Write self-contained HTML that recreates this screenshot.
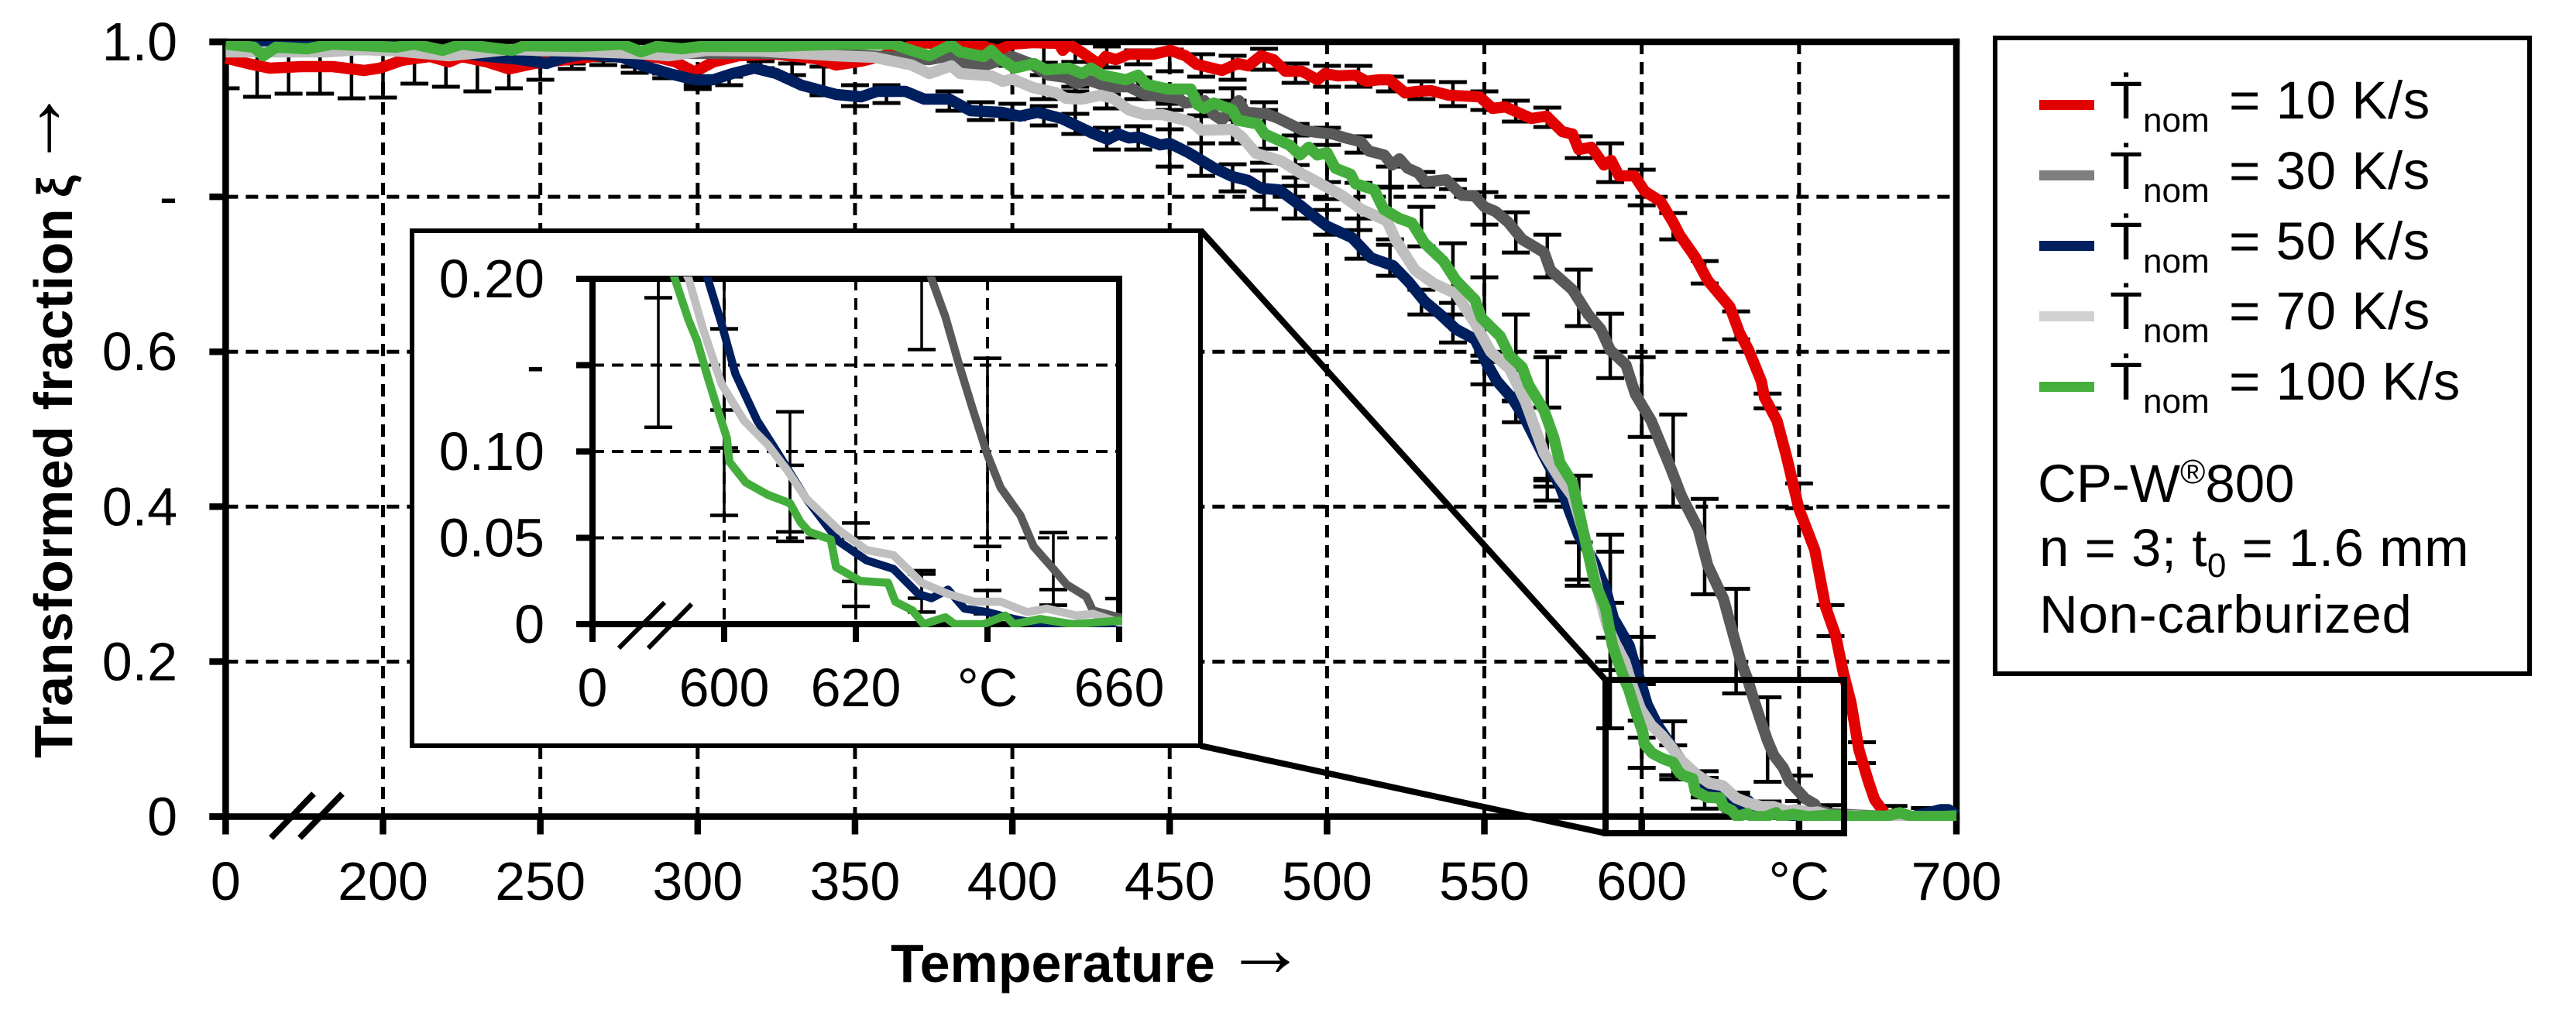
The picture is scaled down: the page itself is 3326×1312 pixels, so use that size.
<!DOCTYPE html>
<html lang="en">
<head>
<meta charset="utf-8">
<title>Transformed fraction vs temperature</title>
<style>
html,body{margin:0;padding:0;background:#fff;}
svg{display:block;}
text{font-family:"Liberation Sans",sans-serif;fill:#000;}
</style>
</head>
<body>
<svg id="chart" xmlns="http://www.w3.org/2000/svg" width="3326" height="1312" viewBox="0 0 3326 1312">
  <defs>
    <clipPath id="main-clip"><rect x="288" y="53" width="2242" height="1007"/></clipPath>
    <clipPath id="inset-clip"><rect x="762" y="357" width="687" height="453"/></clipPath>
  </defs>
  <rect x="0" y="0" width="3326" height="1312" fill="#fff"/>
  <g id="main-grid"></g>
  <g id="main-axes"></g>
  <g id="main-errors" clip-path="url(#main-clip)"></g>
  <g id="main-lines" clip-path="url(#main-clip)"></g>
  <g id="main-labels"></g>

  <g stroke="#000" stroke-width="8" fill="none">
    <line x1="350" y1="1082" x2="405" y2="1025"/>
    <line x1="387" y1="1082" x2="442" y2="1025"/>
  </g>

  <text transform="translate(93 979) rotate(-90)" font-size="70" font-weight="700" letter-spacing="0.5">Transformed fraction<tspan x="724" letter-spacing="0" font-size="64">ξ</tspan><tspan x="761" dy="-12" letter-spacing="0" font-size="105" font-weight="400" style="font-family:'Liberation Serif',serif">→</tspan></text>
  <text x="1150" y="1268" font-size="70" font-weight="700">Temperature<tspan x="1581" dy="-8" font-size="105" font-weight="400" style="font-family:'Liberation Serif',serif">→</tspan></text>

  <line x1="1550" y1="297" x2="2073" y2="878" stroke="#000" stroke-width="8"/>
  <line x1="1550" y1="963" x2="2073" y2="1076" stroke="#000" stroke-width="8"/>

  <rect x="532" y="298" width="1018" height="665" fill="#fff" stroke="#000" stroke-width="6"/>
  <g id="inset-grid"></g>
  <g id="inset-axes"></g>
  <g id="inset-errors" clip-path="url(#inset-clip)"></g>
  <g id="inset-lines" clip-path="url(#inset-clip)"></g>
  <g id="inset-labels"></g>
  <g stroke="#000" stroke-width="6" fill="none">
    <line x1="799" y1="837" x2="858" y2="778"/>
    <line x1="837" y1="837" x2="893" y2="780"/>
  </g>

  <g>
    <rect x="2576" y="49" width="690" height="821" fill="#fff" stroke="#000" stroke-width="6"/>
    <g>
      <rect x="2633" y="129" width="71" height="13" fill="#e30000"/>
      <text x="2724" y="153" font-size="69">Ṫ</text>
      <text x="2767" y="170" font-size="44">nom</text>
      <text x="2878" y="153" font-size="69" letter-spacing="0.6">= 10 K/s</text>
    </g>
    <g>
      <rect x="2633" y="220" width="71" height="13" fill="#7f7f7f"/>
      <text x="2724" y="244" font-size="69">Ṫ</text>
      <text x="2767" y="261" font-size="44">nom</text>
      <text x="2878" y="244" font-size="69" letter-spacing="0.6">= 30 K/s</text>
    </g>
    <g>
      <rect x="2633" y="311" width="71" height="13" fill="#002060"/>
      <text x="2724" y="335" font-size="69">Ṫ</text>
      <text x="2767" y="352" font-size="44">nom</text>
      <text x="2878" y="335" font-size="69" letter-spacing="0.6">= 50 K/s</text>
    </g>
    <g>
      <rect x="2633" y="402" width="71" height="13" fill="#d0d0d0"/>
      <text x="2724" y="425" font-size="69">Ṫ</text>
      <text x="2767" y="442" font-size="44">nom</text>
      <text x="2878" y="425" font-size="69" letter-spacing="0.6">= 70 K/s</text>
    </g>
    <g>
      <rect x="2633" y="493" width="71" height="13" fill="#46b03c"/>
      <text x="2724" y="516" font-size="69">Ṫ</text>
      <text x="2767" y="533" font-size="44">nom</text>
      <text x="2878" y="516" font-size="69" letter-spacing="0.6">= 100 K/s</text>
    </g>
    <text x="2631" y="648" font-size="69">CP-W<tspan font-size="44" dy="-24">®</tspan><tspan dy="24">800</tspan></text>
    <text x="2633" y="731" font-size="69" letter-spacing="0.5">n = 3; t<tspan font-size="44" dy="14">0</tspan><tspan dy="-14"> = 1.6 mm</tspan></text>
    <text x="2633" y="817" font-size="69" letter-spacing="0.7">Non-carburized</text>
  </g>

  <rect x="2073" y="878" width="308" height="198" fill="none" stroke="#000" stroke-width="8"/>
</svg>

<script>
/* Axis tick values and printed labels (the first position stands in for the broken axis start) */
const mainXTicks = [150, 200, 250, 300, 350, 400, 450, 500, 550, 600, 650, 700];
const mainXLabels = ["0", "200", "250", "300", "350", "400", "450", "500", "550", "600", "°C", "700"];
const mainYTicks = [0, 0.2, 0.4, 0.6, 0.8, 1.0];
const mainYLabels = ["0", "0.2", "0.4", "0.6", "-", "1.0"];
const insetXTicks = [580, 600, 620, 640, 660];
const insetXLabels = ["0", "600", "620", "°C", "660"];
const insetYTicks = [0, 0.05, 0.10, 0.15, 0.20];
const insetYLabels = ["0", "0.05", "0.10", "-", "0.20"];

/* 10 K/s */
const redT = [150,157,164,174,184,194,199,206,215,221,225,233,240,248,256,265,274,287,293,299,305,313,325,338,344,352,362,370,380,390,
395.4,400,406.5,414.7,416,418,422.2,427.5,429.6,432.9,437,445,450.2,455,458.5,466.6,471.6,475,479,483,486.8,492,497,499.3,503.4,509,512.5,516.6,519.8,524.8,528.8,533,538.7,548.5,552.6,556.7,564.9,569.8,574.8,578,580,584,588,590.3,592.8,597.7,601,606,610,
612,617,621,628,631,634,638,639,643,646,650,655,658.4,661.6,664,666.5,669,672,674,678];
const redXi = [.979,.972,.966,.968,.968,.963,.966,.976,.981,.974,.981,.974,.965,.972,.976,.98,.984,.98,.974,.961,.974,.982,.984,.978,.97,.975,.985,.999,.997,.995,
.989,.997,.999,.998,.989,.997,.986,.971,.981,.977,.984,.984,.989,.982,.971,.963,.972,.969,.982,.977,.962,.962,.951,.959,.956,.957,.949,.951,.951,.934,.936,.937,.931,.929,.914,.916,.901,.904,.884,.881,.861,.864,.841,.847,.827,.827,.807,.794,.767,
.751,.722,.692,.658,.625,.602,.562,.541,.511,.465,.397,.344,.271,.234,.187,.147,.087,.046,.022,0];

/* 30 K/s */
const grayT = [150,200,250,300,340,364,
373.6,380.1,384,390.9,400,405.7,411.5,417,420.5,423.8,430.4,437,442,452.6,455,461,464,466.6,472,474,480.6,484,492.2,497,501.8,505.9,510.8,513.3,518.2,520.7,523,525.6,528.9,531.3,537.9,542.8,546.9,550,553.5,557.6,
562,569,571,578,583,587,590,595,598,603,609,612.6,618,621,626,628,631.5,633.6,635.7,637.8,640,642,645,647,650,652,655,656,660,668,680];
const grayXi = [.99,.99,.988,.985,.985,.98,
.977,.982,.972,.969,.981,.972,.957,.954,.946,.951,.942,.942,.932,.927,.921,.924,.906,.899,.924,.909,.907,.902,.886,.883,.881,.876,.871,.859,.854,.841,.849,.837,.831,.819,.822,.802,.801,.787,.781,.767,
.745,.728,.705,.68,.648,.629,.602,.583,.545,.511,.452,.414,.371,.324,.281,.251,.2,.178,.15,.124,.098,.079,.063,.045,.032,.023,.016,.008,.004,.002,0];

/* 50 K/s */
const navyT = [150,180,200,221,231,242,252,258,264,276,282,291,299,305,311,318,325,333,344,352,357,366,372,
380,386.7,396.6,402.4,408,415.6,425.5,430.4,433.7,437,440.3,446.9,450,456,464.2,470,475,479,484.8,491.4,497,
500,508,514,521,526,531,536,541,547,551,554,559,563,569,574,580,585,588.5,591,596,597.5,599.6,601.7,605,608,612.4,617.4,621.6,625.7,629.5,631.5,634,636.5,640,644,648,656,686,695,697.5,700];
const navyXi = [.995,.998,.995,.989,.982,.978,.972,.98,.984,.98,.97,.959,.951,.951,.959,.966,.959,.944,.932,.929,.936,.936,.926,
.926,.911,.909,.904,.909,.901,.882,.874,.881,.876,.877,.867,.869,.857,.837,.826,.821,.811,.809,.789,.771,
.762,.747,.721,.711,.69,.665,.648,.629,.616,.583,.562,.539,.513,.465,.427,.363,.328,.294,.256,.221,.2,.174,.145,.118,.10,.073,.048,.037,.032,.0175,.015,.02,.009,.007,.003,0,0,0,.009,.009,.002];

/* 70 K/s */
const lightT = [150,182,193,205,221,240,260,280,291,303,320,344,356,368,
373.6,380.6,383.4,393.3,397,400,406.5,414,417,422,428,432,437,442,447.7,456.7,460,470,473,477.4,485.6,491.4,497,505,510.8,519,
522,528,534,541,547,552,558,563,569,574,578,581.5,586,589,592,594.6,596.7,599.6,603,606.6,609.5,612.4,617.4,621.6,625.7,630,634,638,642,646,649,653.5,656,660,668,680,700];
const lightXi = [.987,.987,.99,.988,.982,.99,.988,.985,.982,.989,.988,.982,.98,.97,
.959,.969,.959,.956,.949,.952,.941,.934,.927,.926,.931,.927,.912,.906,.906,.897,.886,.887,.877,.856,.846,.831,.819,.801,.784,.769,
.743,.705,.688,.675,.637,.60,.578,.536,.469,.436,.414,.367,.294,.247,.22,.2,.172,.139,.118,.104,.0895,.073,.0545,.043,.04,.024,.0175,.013,.013,.007,.009,.005,.006,.001,.001,0,0];

/* 100 K/s */
const greenT = [150,159,162,166,176,184,194,204,210,219,225,237,241,245,262,276,282,287,295,301,324,346,362,368,
373.6,380.6,383.4,390.9,393.3,395.8,400.7,406.9,410.6,418,422.2,425,428.7,436,440,442.7,449.3,456.7,458.8,460.9,464,470,471.6,478,480.2,488,491.4,494.2,496.9,500,502.6,507.5,509,515,518,523,527,
531,537,541,547,549,555,558,562,564,569,572,574,578,581.5,585,588.5,590.7,592.5,594.6,595.9,597.5,598.8,600.4,600.8,603.3,606.6,610,611.6,612.9,616.2,617,620.7,624.9,626,628.6,630.3,633.6,635,639.4,642.7,644,648,653,656.4,660,667.7,672,677,682,686,695,700];
const greenXi = [.997,.993,.982,.993,.991,.997,.995,.993,.997,.989,.997,.991,.989,.995,.994,.997,.987,.994,.991,.994,.994,.997,.997,.989,
.982,.996,.987,.981,.989,.979,.966,.972,.964,.966,.959,.966,.957,.951,.957,.945,.939,.939,.919,.914,.921,.912,.899,.894,.881,.867,.854,.864,.854,.857,.837,.829,.817,.809,.784,.772,.766,
.74,.717,.692,.667,.644,.62,.595,.58,.558,.524,.49,.457,.431,.367,.303,.269,.221,.2,.176,.164,.143,.127,.108,.094,.082,.075,.07,.059,.0535,.049,.033,.025,.024,.013,.008,0,.004,0,0,.005,0,.003,0,.001,.002,0,.001,0,.005,0,0,.001];

/* Error bars: temperature, lower end, upper end */
const redErrT = [150,160,170,180,190,200,210,220,230,240,250,400,410,420,430,440,450,460,470,480,490,500,510,520,530,540,550,560,570,580,590,600,610,620,630,640,650,660,670,680,690];
const redErrLo = [.94,.929,.933,.933,.927,.928,.946,.942,.936,.94,.951,.969,.973,.974,.967,.971,.962,.955,.951,.964,.947,.942,.942,.936,.926,.917,.912,.897,.89,.85,.819,.789,.745,.688,.616,.527,.398,.233,.069,.003,.002];
const redErrHi = [1,1,1,1,1,1,1,1,1,1,1,1,1,1,.994,.989,.99,.984,.982,.991,.972,.969,.969,.955,.949,.948,.936,.924,.915,.878,.869,.835,.779,.717,.652,.546,.43,.273,.096,.0137,.011];

const grayErrT = [420,440,450,460,470,480,490,500,510,520,530,540,550,560,570,580,590,600,610,620,630,640,650,660];
const grayErrLo = [.936,.926,.92,.905,.90,.862,.841,.819,.857,.813,.813,.81,.764,.728,.696,.633,.566,.49,.40,.287,.159,.045,.011,.001];
const grayErrHi = [.959,.954,.93,.936,.94,.922,.894,.889,.878,.839,.832,.822,.806,.78,.751,.706,.649,.593,.519,.41,.294,.154,.053,.0148];

const navyErrT = [260,270,280,290,300,310,320,330,340,350,360,380,390,400,410,420,430,440,450,460,470,480,490,500,510,520,530,540,550,560,570];
const navyErrLo = [.965,.97,.96,.953,.939,.944,.966,.957,.931,.917,.921,.911,.899,.90,.892,.881,.861,.861,.839,.827,.807,.784,.772,.751,.72,.698,.648,.612,.558,.509,.434];
const navyErrHi = [.972,.976,.968,.959,.944,.955,.975,.972,.968,.944,.944,.936,.922,.92,.917,.907,.889,.891,.887,.869,.842,.834,.825,.783,.772,.738,.68,.663,.595,.536,.528];

const lightErrT = [410,420,430,440,450,460,470,480,490,500,510,520,530,540,550,560,570,580,590,600,610,620,630,640];
const lightErrLo = [.926,.907,.914,.926,.912,.869,.869,.844,.814,.797,.757,.745,.736,.648,.587,.537,.426,.298,.189,.124,.0535,.0247,.015,.006];
const lightErrHi = [.957,.942,.932,.95,.925,.904,.924,.912,.879,.867,.818,.812,.787,.74,.696,.648,.593,.44,.342,.171,.123,.0586,.031,.0195];

const greenErrT = [570,580,590,590,600,600,610,620,630,650];
const greenErrLo = [.408,.306,.114,.231,.063,.102,.048,.0103,.007,.011];
const greenErrHi = [.436,.354,.364,.276,.232,.171,.092,.05,.029,.02];

const seriesNames = ["10", "30", "50", "70", "100"];
const seriesColors = ["#e30000", "#595959", "#001f5f", "#bfbfbf", "#44ae3c"];
const seriesTemps = [redT, grayT, navyT, lightT, greenT];
const seriesValues = [redXi, grayXi, navyXi, lightXi, greenXi];
const errorTemps = [redErrT, grayErrT, navyErrT, lightErrT, greenErrT];
const errorLows = [redErrLo, grayErrLo, navyErrLo, lightErrLo, greenErrLo];
const errorHighs = [redErrHi, grayErrHi, navyErrHi, lightErrHi, greenErrHi];

const SVGNS = "http://www.w3.org/2000/svg";
const $ = id => document.getElementById(id);

function xMain(t) { return 494.5 + (t - 200) * 4.063; }
function yMain(v) { return 1054.5 - v * 1000.5; }
function xInset(t) { return 935 + (t - 600) * 8.5; }
function yInset(v) { return 806 - v * 2230; }

function makeLine(parent, x1, y1, x2, y2, width, dash) {
  const el = document.createElementNS(SVGNS, "line");
  el.setAttribute("x1", x1);
  el.setAttribute("y1", y1);
  el.setAttribute("x2", x2);
  el.setAttribute("y2", y2);
  el.setAttribute("stroke", "#000");
  el.setAttribute("stroke-width", width);
  if (dash) el.setAttribute("stroke-dasharray", dash);
  parent.appendChild(el);
  return el;
}

function makeText(parent, x, y, str, anchor) {
  const el = document.createElementNS(SVGNS, "text");
  el.setAttribute("x", x);
  el.setAttribute("y", y);
  el.setAttribute("font-size", "70");
  el.setAttribute("text-anchor", anchor);
  el.textContent = str;
  parent.appendChild(el);
  return el;
}

function drawPanel(cfg) {
  const left = cfg.x(cfg.xTicks[0]);
  const right = cfg.x(cfg.xTicks[cfg.xTicks.length - 1]);
  const bottom = cfg.y(0);
  const top = cfg.y(cfg.yTicks[cfg.yTicks.length - 1]);

  /* grid */
  cfg.xTicks.slice(1, -1).forEach(t => {
    const g = makeLine($(cfg.prefix + "-grid"), cfg.x(t), top, cfg.x(t), bottom, cfg.gridW, cfg.dash);
    
    
  });
  cfg.yTicks.slice(1, -1).forEach(v => {
    const g = makeLine($(cfg.prefix + "-grid"), left, cfg.y(v), right, cfg.y(v), cfg.gridW, cfg.dash);
    
    
  });

  /* axes */
  const axes = $(cfg.prefix + "-axes");
  const half = cfg.axisW / 2;
  const a1 = makeLine(axes, left, top - half, left, bottom + half, cfg.axisW);
  
  
  const a2 = makeLine(axes, right, top - half, right, bottom + half, cfg.axisW);
  
  
  const a3 = makeLine(axes, left - 21, bottom, right + half, bottom, cfg.axisW);
  
  
  const a4 = makeLine(axes, left - 21, top, right + half, top, cfg.axisW);
  
  

  cfg.xTicks.forEach(t => {
    const k = makeLine(axes, cfg.x(t), bottom, cfg.x(t), bottom + 23, cfg.axisW);
    
    
  });
  cfg.yTicks.forEach(v => {
    const k = makeLine(axes, left - 21, cfg.y(v), left, cfg.y(v), cfg.axisW);
    
    
  });

  /* labels */
  const labels = $(cfg.prefix + "-labels");
  cfg.xTicks.forEach((t, i) => {
    const l = makeText(labels, cfg.x(t), cfg.xLabelY, cfg.xLabels[i], "middle");
    
    
  });
  cfg.yTicks.forEach((v, i) => {
    const l = makeText(labels, cfg.yLabelX, cfg.y(v) + 24, cfg.yLabels[i], "end");
    
    
  });

  /* error bars */
  const errs = $(cfg.prefix + "-errors");
  errorTemps.forEach((temps, s) => {
    temps.forEach((t, i) => {
      const px = cfg.x(t);
      const yLo = cfg.y(errorLows[s][i]);
      const yHi = cfg.y(errorHighs[s][i]);
      const stem = makeLine(errs, px, yLo, px, yHi, cfg.stemW);
      
      
      const c1 = makeLine(errs, px - 18, yLo, px + 18, yLo, cfg.capW);
      
      
      const c2 = makeLine(errs, px - 18, yHi, px + 18, yHi, cfg.capW);
      
      
    });
  });

  /* series */
  const lines = $(cfg.prefix + "-lines");
  seriesTemps.forEach((temps, s) => {
    const pts = temps.map((t, i) => cfg.x(t).toFixed(1) + "," + cfg.y(seriesValues[s][i]).toFixed(1)).join(" ");
    const el = document.createElementNS(SVGNS, "polyline");
    el.setAttribute("points", pts);
    el.setAttribute("fill", "none");
    el.setAttribute("stroke", seriesColors[s]);
    el.setAttribute("stroke-width", cfg.lineW);
    el.setAttribute("stroke-linejoin", "round");
    
    
    lines.appendChild(el);
  });
}

drawPanel({
  prefix: "main", x: xMain, y: yMain,
  xTicks: mainXTicks, xLabels: mainXLabels, yTicks: mainYTicks, yLabels: mainYLabels,
  xLabelY: 1162, yLabelX: 229, axisW: 8.5, gridW: 5, dash: "16 10", stemW: 4.5, capW: 5, lineW: 14.5
});
drawPanel({
  prefix: "inset", x: xInset, y: yInset,
  xTicks: insetXTicks, xLabels: insetXLabels, yTicks: insetYTicks, yLabels: insetYLabels,
  xLabelY: 912, yLabelX: 703, axisW: 8, gridW: 4, dash: "15 10", stemW: 3.5, capW: 4.5, lineW: 10.5
});
</script>
</body>
</html>
